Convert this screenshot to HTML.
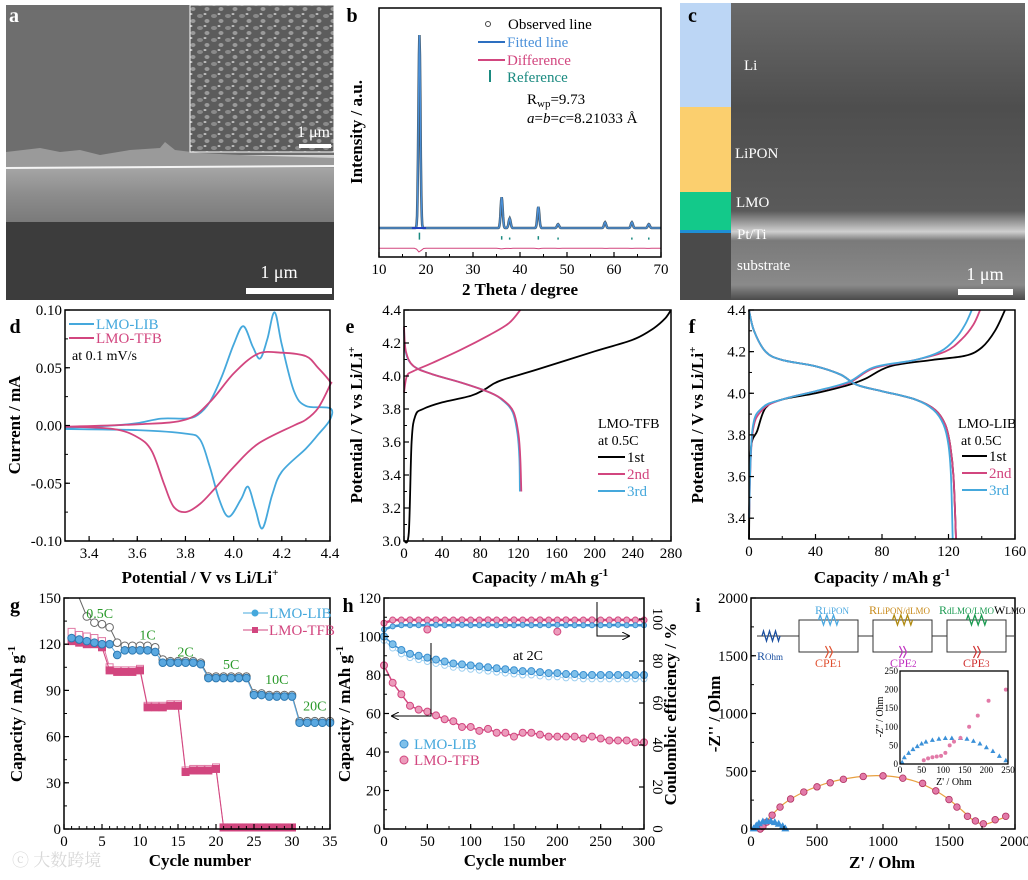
<!DOCTYPE html>
<html><head><meta charset="utf-8">
<style>
html,body{margin:0;padding:0;background:#fff;}
svg{display:block;font-family:"Liberation Serif","Noto Serif CJK SC",serif;}
</style></head>
<body>
<svg id="fig" width="1028" height="880" viewBox="0 0 1028 880" xmlns="http://www.w3.org/2000/svg">
<defs>
<linearGradient id="filmGrad" x1="0" y1="0" x2="0" y2="1">
<stop offset="0" stop-color="#d8d8d8"/><stop offset="0.15" stop-color="#a8a8a8"/><stop offset="0.6" stop-color="#8c8c8c"/><stop offset="1" stop-color="#7a7a7a"/>
</linearGradient>
<pattern id="grains" width="14" height="12" patternUnits="userSpaceOnUse">
<rect width="14" height="12" fill="#5c5c5c"/>
<ellipse cx="4" cy="4" rx="3" ry="2" fill="#8a8a8a"/>
<ellipse cx="11" cy="9" rx="2.5" ry="2" fill="#9a9a9a"/>
<ellipse cx="9" cy="2" rx="1.5" ry="1" fill="#bdbdbd"/>
</pattern>
<linearGradient id="semC" x1="0" y1="0" x2="0" y2="1">
<stop offset="0" stop-color="#6a6a6a"/><stop offset="0.35" stop-color="#4e4e4e"/><stop offset="0.7" stop-color="#5a5a5a"/><stop offset="0.77" stop-color="#cfcfcf"/><stop offset="0.8" stop-color="#7a7a7a"/><stop offset="0.95" stop-color="#8a8a8a"/><stop offset="1" stop-color="#4a4a4a"/>
</linearGradient>
<marker id="arr" markerWidth="8" markerHeight="8" refX="7" refY="4" orient="auto"><path d="M0,0 L8,4 L0,8" fill="none" stroke="#000" stroke-width="1"/></marker>
<marker id="arrB" markerWidth="8" markerHeight="8" refX="7" refY="4" orient="auto"><path d="M0,0 L8,4 L0,8" fill="none" stroke="#000" stroke-width="1"/></marker>
</defs>

<!-- Panel a -->
<g>
<rect x="6" y="5" width="328" height="295" fill="#6e6e6e"/>
<rect x="6" y="155" width="328" height="67" fill="url(#filmGrad)"/>
<path d="M6,152 L40,148 L60,152 L80,150 L100,155 L130,150 L160,148 L165,142 L175,150 L200,153 L240,155 L334,158 L334,168 L6,168 Z" fill="#9a9a9a"/>
<line x1="6" y1="168" x2="334" y2="166" stroke="#f4f4f4" stroke-width="2"/>
<rect x="6" y="222" width="328" height="78" fill="#3c3c3c"/>
<rect x="190" y="5" width="144" height="147" fill="url(#grains)" stroke="#fff" stroke-width="1"/>
<text x="330" y="137" fill="#fff" font-size="16" text-anchor="end">1 μm</text>
<rect x="299" y="144" width="32" height="4" fill="#fff"/>
<text x="279" y="278" fill="#fff" font-size="18" text-anchor="middle">1 μm</text>
<rect x="246" y="288" width="86" height="6" fill="#fff"/>
<text x="9" y="22" fill="#fff" font-size="20" font-weight="bold">a</text>
</g>

<!-- Panel c -->
<g>
<rect x="731" y="3" width="294" height="297" fill="url(#semC)"/>
<rect x="680" y="3" width="51" height="104" fill="#bcd6f5"/>
<rect x="680" y="107" width="51" height="85" fill="#fbcf6e"/>
<rect x="680" y="192" width="51" height="38" fill="#13c98a"/>
<rect x="680" y="230" width="51" height="3" fill="#1e8fd6"/>
<rect x="680" y="233" width="51" height="67" fill="#4a4a4a"/>
<g fill="#fff" font-size="15">
<text x="744" y="70">Li</text>
<text x="735" y="158">LiPON</text>
<text x="736" y="207">LMO</text>
<text x="737" y="239">Pt/Ti</text>
<text x="737" y="270">substrate</text>
</g>
<text x="985" y="280" fill="#fff" font-size="18" text-anchor="middle">1 μm</text>
<rect x="958" y="289" width="55" height="6" fill="#fff"/>
<text x="688" y="22" fill="#000" font-size="20" font-weight="bold">c</text>
</g>
</svg>

<script>
const NS='http://www.w3.org/2000/svg';
const svg=document.getElementById('fig');
function el(tag,attrs,parent){const e=document.createElementNS(NS,tag);for(const k in attrs)e.setAttribute(k,attrs[k]);(parent||svg).appendChild(e);return e;}

/* ---------- DATA ---------- */
// b: XRD
const xrdPeakPos=[18.6,36.1,37.8,43.9,48.1,58.1,63.8,67.4];
const xrdPeakHeight=[100,16,5,11,2,3,3,2];
const xrdRefPos=[18.6,36.1,37.8,43.9,48.1,63.8,67.4];
const xrdRefLen=[10,5,3,5,3,3,3];
// d: CV
const cvLibUp=[[3.3,-0.002],[3.5,0],[3.6,0.002],[3.7,0.006],[3.8,0.006],[3.85,0.009],[3.9,0.02],[3.95,0.042],[4.0,0.07],[4.04,0.086],[4.08,0.068],[4.11,0.058],[4.14,0.075],[4.17,0.098],[4.2,0.07],[4.25,0.03],[4.3,0.017],[4.4,0.015]];
const cvLibDown=[[4.4,0.005],[4.35,-0.008],[4.3,-0.02],[4.2,-0.04],[4.16,-0.06],[4.12,-0.089],[4.09,-0.072],[4.06,-0.053],[4.03,-0.064],[3.98,-0.079],[3.94,-0.064],[3.9,-0.035],[3.86,-0.012],[3.8,-0.007],[3.6,-0.004],[3.3,-0.003]];
const cvTfbUp=[[3.3,-0.001],[3.6,0.001],[3.8,0.005],[3.9,0.02],[4.0,0.045],[4.1,0.062],[4.2,0.063],[4.3,0.06],[4.35,0.05],[4.4,0.038]];
const cvTfbDown=[[4.4,0.035],[4.35,0.015],[4.3,0.005],[4.25,0.0],[4.1,-0.016],[4.0,-0.036],[3.92,-0.055],[3.86,-0.068],[3.8,-0.075],[3.75,-0.07],[3.71,-0.05],[3.66,-0.022],[3.6,-0.01],[3.5,-0.003],[3.3,-0.001]];
// e: TFB charge/discharge
const eCharge1=[[0,3.0],[5,3.05],[8,3.6],[12,3.76],[20,3.8],[40,3.84],[70,3.88],[85,3.92],[100,3.97],[140,4.04],[200,4.15],[240,4.22],[262,4.29],[274,4.35],[280,4.4]];
const eCharge2=[[0,3.9],[3,4.0],[10,4.03],[30,4.08],[60,4.16],[90,4.25],[110,4.32],[122,4.4]];
const eDis2=[[0,4.3],[2,4.15],[10,4.06],[30,4.01],[60,3.96],[90,3.9],[105,3.85],[115,3.78],[120,3.65],[122,3.5],[123,3.3]];
const eDis3=[[0,4.28],[2,4.14],[10,4.06],[30,4.01],[60,3.96],[90,3.9],[104,3.85],[114,3.78],[119,3.65],[121,3.5],[121.5,3.3]];
// f: LIB charge/discharge
const fCharge1=[[0,3.3],[1,3.72],[5,3.82],[10,3.93],[20,3.97],[40,4.0],[60,4.04],[70,4.07],[85,4.13],[110,4.16],[130,4.18],[140,4.22],[148,4.3],[154,4.4]];
const fCharge2=[[0,3.4],[2,3.8],[8,3.92],[20,3.97],[40,4.01],[60,4.05],[75,4.12],[100,4.16],[118,4.2],[128,4.26],[135,4.33],[139,4.4]];
const fCharge3=[[0,3.4],[2,3.82],[8,3.93],[20,3.97],[40,4.01],[60,4.055],[75,4.125],[100,4.16],[115,4.2],[124,4.26],[130,4.33],[134,4.4]];
const fDis1=[[0,4.4],[3,4.3],[10,4.2],[20,4.16],[40,4.13],[55,4.09],[65,4.04],[80,4.01],[100,3.97],[112,3.92],[118,3.85],[121,3.75],[123,3.6],[124.5,3.3]];
const fDis3=[[0,4.4],[3,4.3],[10,4.2],[20,4.16],[40,4.13],[55,4.09],[65,4.04],[80,4.01],[100,3.97],[111,3.92],[117,3.85],[120,3.75],[121.5,3.6],[122.5,3.3]];
// g: rate capability
const gCycles=[1,2,3,4,5,6,7,8,9,10,11,12,13,14,15,16,17,18,19,20,21,22,23,24,25,26,27,28,29,30,31,32,33,34,35];
const gLib=[124,123,122,121,120,120,113,116,116,116,116,115,108,108,108,108,108,107,98,98,98,98,98,98,87,87,86,86,86,86,69,69,69,69,69];
const gLibCharge=[null,160,138,134,133,131,121,119,119,119,119,118,110,109,109,109,109,108,99,99,99,99,99,99,88,88,87,87,87,87,70,70,70,70,70];
const gTfb=[122,121,120,120,118,103,102,102,102,103,79,79,79,80,80,37,38,38,38,39,1,1,1,1,1,1,1,1,1,1];
const gTfbCharge=[128,126,125,124,122,105,103,103,103,104,80,80,80,81,81,38,39,39,39,40,1,1,1,1,1,1,1,1,1,1];
const gRateLabels=['0.5C','1C','2C','5C','10C','20C'];
const gRateX=[4.7,11,16,22,28,33];
const gRateY=[137,123,112,104,94,77];
// h: cycling
const hCycles=[0,10,20,30,40,50,60,70,80,90,100,110,120,130,140,150,160,170,180,190,200,210,220,230,240,250,260,270,280,290,300];
const hLib=[100,96,93,91,90,89,88,87,86,85.5,85,84.5,84,83.5,83,82.5,82,82,81.5,81,81,80.5,80.5,80,80,80,80,80,80,80,80];
const hTfb=[85,76,70,64,62,61,59,57,56,53,53,51,52,50,50,48,50,50,49,48,48,48,48,47,48,47,46,46,46,45,45];
const hCeLib=[95,96.5,97,97,97,97,97.2,97,97,97.2,97,97,97.2,97,97,97,97.2,97,97,97,97.2,97,97,97,97,97,97,97.2,97,97,97];
const hCeTfb=[98,99.5,99.5,99.6,99.5,99.5,99.6,99.5,99.5,99.6,99.5,99.5,99.6,99.5,99.5,99.6,99.5,99.5,99.6,99.5,99.5,99.6,99.5,99.5,99.6,99.5,99.5,99.6,99.5,99.5,99.5];
const hOutlierCe=[[50,95],[200,94]];
// i: EIS
const iTfb=[[70,0],[90,20],[120,60],[160,120],[220,190],[300,260],[400,320],[500,365],[600,400],[700,430],[850,455],[1000,460],[1150,440],[1300,395],[1400,330],[1500,255],[1560,190],[1640,110],[1700,70],[1760,45],[1850,80],[1930,110]];
const iTfbFit=[[70,0],[150,110],[250,220],[400,320],[600,405],[800,450],[950,462],[1100,450],[1250,410],[1400,330],[1500,255],[1600,160],[1680,80],[1760,40],[1850,70],[1930,105]];
const iLib=[[20,5],[40,30],[60,50],[90,65],[120,70],[150,68],[180,60],[210,45],[240,25],[260,5]];
const iInsetLib=[[5,5],[10,18],[20,30],[30,40],[40,48],[50,55],[60,60],[75,65],[90,68],[105,70],[120,70],[140,70],[155,68],[170,62],[185,55],[200,45],[215,35],[230,22],[245,10]];
const iInsetTfb=[[55,10],[65,15],[75,18],[85,20],[95,22],[105,30],[115,50],[125,60],[140,70],[160,100],[180,130],[205,170],[245,200]];

/* ---------- helpers ---------- */
function axes(b,xmin,xmax,ymin,ymax){return {sx:v=>b.x0+(v-xmin)/(xmax-xmin)*(b.x1-b.x0), sy:v=>b.y1-(v-ymin)/(ymax-ymin)*(b.y1-b.y0)};}
function txt(x,y,s,opt){const t=el('text',{x:x,y:y,'font-size':opt.size||15,'text-anchor':opt.anchor||'middle',fill:opt.fill||'#000'});if(opt.weight)t.setAttribute('font-weight',opt.weight);if(opt.rot)t.setAttribute('transform','rotate('+opt.rot+' '+x+' '+y+')');t.textContent=s;return t;}
function frame(b){const r=el('rect',{x:b.x0,y:b.y0,width:b.x1-b.x0,height:b.y1-b.y0,fill:'none',stroke:'#000','stroke-width':1.5});

}
function xticks(b,ax,vals,labels,minorStep,lo,hi){
 vals.forEach((v,i)=>{const x=ax.sx(v);el('line',{x1:x,y1:b.y1,x2:x,y2:b.y1-5,stroke:'#000','stroke-width':1.2});
  const t=txt(x,b.y1+17,labels[i],{size:15});
  
  });
 if(minorStep){for(let v=lo;v<=hi+1e-9;v+=minorStep){const x=ax.sx(v);el('line',{x1:x,y1:b.y1,x2:x,y2:b.y1-3,stroke:'#000','stroke-width':1});}}
}
function yticks(b,ax,vals,labels,minorStep,lo,hi){
 vals.forEach((v,i)=>{const y=ax.sy(v);el('line',{x1:b.x0,y1:y,x2:b.x0+5,y2:y,stroke:'#000','stroke-width':1.2});
  const t=txt(b.x0-3,y+5,labels[i],{size:15,anchor:'end'});
  
  });
 if(minorStep){for(let v=lo;v<=hi+1e-9;v+=minorStep){const y=ax.sy(v);el('line',{x1:b.x0,y1:y,x2:b.x0+3,y2:y,stroke:'#000','stroke-width':1});}}
}
function smoothPath(pts,ax){
 const P=pts.map(p=>[ax.sx(p[0]),ax.sy(p[1])]);
 let d='M'+P[0][0].toFixed(1)+','+P[0][1].toFixed(1);
 for(let i=0;i<P.length-1;i++){const p0=P[i-1]||P[i],p1=P[i],p2=P[i+1],p3=P[i+2]||p2;
  const c1=[p1[0]+(p2[0]-p0[0])/6,p1[1]+(p2[1]-p0[1])/6],c2=[p2[0]-(p3[0]-p1[0])/6,p2[1]-(p3[1]-p1[1])/6];
  d+='C'+c1[0].toFixed(1)+','+c1[1].toFixed(1)+' '+c2[0].toFixed(1)+','+c2[1].toFixed(1)+' '+p2[0].toFixed(1)+','+p2[1].toFixed(1);}
 return d;}
function curve(pts,ax,color,w,name){const p=el('path',{d:smoothPath(pts,ax),fill:'none',stroke:color,'stroke-width':w});
 
 return p;}
function legendLine(x1,x2,y,color,label,lc,name){el('line',{x1:x1,y1:y,x2:x2,y2:y,stroke:color,'stroke-width':2});
 const t=txt(x2+2,y+5,label,{size:15,anchor:'start',fill:lc});
 
 }
const BLUE='#45a8dc', PINK='#d2467f', GREEN='#2a9a2a';

/* ---------- Panel b ---------- */
(function(){
 const b={x0:379,x1:661,y0:8,y1:257};
 const ax=axes(b,10,70,-15,114);
 const prof=[];
 for(let t=10;t<=70.001;t+=0.1){let v=0;xrdPeakPos.forEach((p,i)=>{v+=xrdPeakHeight[i]*Math.exp(-Math.pow((t-p)/0.3,2));});prof.push([t,v]);}
 let d=prof.map((p,i)=>(i?'L':'M')+ax.sx(p[0]).toFixed(1)+','+ax.sy(p[1]).toFixed(1)).join('');
 const obs=el('path',{d:d,fill:'none',stroke:'#455a6a','stroke-width':2.6});
 
 
 const fit=el('path',{d:d,fill:'none',stroke:'#4a90d9','stroke-width':1.3});
 
 
 el('line',{x1:ax.sx(17),y1:ax.sy(0),x2:ax.sx(20),y2:ax.sy(0),stroke:'#2040c0','stroke-width':2});
 xrdRefPos.forEach((p,i)=>{const r=el('line',{x1:ax.sx(p),y1:ax.sy(-6),x2:ax.sx(p),y2:ax.sy(-6)-xrdRefLen[i]*0.7,stroke:'#1a8a80','stroke-width':1.5});
  
  });
 const diff=[];for(let t=10;t<=70.001;t+=0.5){let v=-10.5;xrdPeakPos.forEach((p,i)=>{v-=xrdPeakHeight[i]*0.02*Math.exp(-Math.pow((t-p)/0.5,2));});diff.push([t,v]);}
 const df=el('path',{d:diff.map((p,i)=>(i?'L':'M')+ax.sx(p[0]).toFixed(1)+','+ax.sy(p[1]).toFixed(1)).join(''),fill:'none',stroke:PINK,'stroke-width':1});
 
 
 frame(b);
 xticks(b,ax,[10,20,30,40,50,60,70],['10','20','30','40','50','60','70'],5,10,70);
 const xt=txt(520,295,'2 Theta / degree',{size:17,weight:'bold'});
 
 
 const yt=txt(362,132,'Intensity / a.u.',{size:17,weight:'bold',rot:-90});
 
 
 el('circle',{cx:488,cy:24,r:2.5,fill:'none',stroke:'#444','stroke-width':1});
 let t=txt(508,29,'Observed line',{size:15,anchor:'start'});
 
 
 legendLine(478,505,42,'#2d6fc0','Fitted line','#4a90d9','legend-fitted');
 legendLine(478,505,60,PINK,'Difference',PINK,'legend-difference');
 el('line',{x1:490,y1:70,x2:490,y2:82,stroke:'#1a8a80','stroke-width':2});
 t=txt(507,82,'Reference',{size:15,anchor:'start',fill:'#1a8a80'});
 
 
 t=el('text',{x:527,y:104,'font-size':15});t.innerHTML='R<tspan font-size="11" dy="3">wp</tspan><tspan dy="-3">=9.73</tspan>';
 
 
 t=el('text',{x:527,y:123,'font-size':15});t.innerHTML='<tspan font-style="italic">a</tspan>=<tspan font-style="italic">b</tspan>=<tspan font-style="italic">c</tspan>=8.21033 Å';
 
 
 t=txt(352,22,'b',{size:20,weight:'bold'});
 
 
})();

/* ---------- Panel d ---------- */
(function(){
 const b={x0:65,x1:330,y0:310,y1:541};
 const ax=axes(b,3.3,4.4,-0.1,0.1);
 curve(cvLibUp.concat(cvLibDown),ax,BLUE,1.8,'cv-lmo-lib');
 curve(cvTfbUp.concat(cvTfbDown),ax,PINK,1.8,'cv-lmo-tfb');
 frame(b);
 xticks(b,ax,[3.4,3.6,3.8,4.0,4.2,4.4],['3.4','3.6','3.8','4.0','4.2','4.4'],0.1,3.3,4.4);
 yticks(b,ax,[-0.1,-0.05,0,0.05,0.1],['-0.10','-0.05','0.00','0.05','0.10'],0.025,-0.1,0.1);
 let t=el('text',{x:200,y:583,'font-size':17,'font-weight':'bold','text-anchor':'middle'});t.innerHTML='Potential / V vs Li/Li<tspan font-size="11" dy="-7">+</tspan>';
 
 
 t=txt(20,425,'Current / mA',{size:17,weight:'bold',rot:-90});
 
 
 legendLine(69,94,324,BLUE,'LMO-LIB',BLUE,'legend-lmo-lib-d');
 legendLine(69,94,338,PINK,'LMO-TFB',PINK,'legend-lmo-tfb-d');
 t=txt(72,360,'at 0.1 mV/s',{size:14,anchor:'start'});
 
 
 t=txt(15,333,'d',{size:20,weight:'bold'});
 
 
})();

/* ---------- Panel e ---------- */
(function(){
 const b={x0:404,x1:671,y0:310,y1:541};
 const ax=axes(b,0,280,3.0,4.4);
 curve(eCharge1,ax,'#000',1.8,'tfb-charge-1st');
 curve(eCharge2,ax,PINK,1.8,'tfb-charge-2nd');
 curve(eDis3,ax,BLUE,1.8,'tfb-discharge-3rd');
 curve(eDis2,ax,PINK,1.8,'tfb-discharge-2nd');
 frame(b);
 xticks(b,ax,[0,40,80,120,160,200,240,280],['0','40','80','120','160','200','240','280'],20,0,280);
 yticks(b,ax,[3.0,3.2,3.4,3.6,3.8,4.0,4.2,4.4],['3.0','3.2','3.4','3.6','3.8','4.0','4.2','4.4'],0.1,3.0,4.4);
 let t=el('text',{x:540,y:583,'font-size':17,'font-weight':'bold','text-anchor':'middle'});t.innerHTML='Capacity / mAh g<tspan font-size="11" dy="-7">-1</tspan>';
 
 
 t=el('text',{x:362,y:425,'font-size':17,'font-weight':'bold','text-anchor':'middle',transform:'rotate(-90 362 425)'});t.innerHTML='Potential / V vs Li/Li<tspan font-size="11" dy="-7">+</tspan>';
 
 
 t=txt(598,428,'LMO-TFB',{size:14,anchor:'start'});
 
 
 t=txt(598,445,'at 0.5C',{size:14,anchor:'start'});
 
 
 legendLine(598,625,457,'#000','1st','#000','legend-1st-e');
 legendLine(598,625,474,PINK,'2nd',PINK,'legend-2nd-e');
 legendLine(598,625,491,BLUE,'3rd',BLUE,'legend-3rd-e');
 t=txt(350,333,'e',{size:20,weight:'bold'});
 
 
})();

/* ---------- Panel f ---------- */
(function(){
 const b={x0:749,x1:1015,y0:310,y1:539};
 const ax=axes(b,0,160,3.3,4.4);
 curve(fCharge1,ax,'#000',1.8,'lib-charge-1st');
 curve(fDis1,ax,'#000',1.8,'lib-discharge-1st');
 curve(fCharge2,ax,PINK,1.8,'lib-charge-2nd');
 curve(fDis1,ax,PINK,1.8,'lib-discharge-2nd');
 curve(fCharge3,ax,BLUE,1.8,'lib-charge-3rd');
 curve(fDis3,ax,BLUE,1.8,'lib-discharge-3rd');
 frame(b);
 xticks(b,ax,[0,40,80,120,160],['0','40','80','120','160'],20,0,160);
 yticks(b,ax,[3.4,3.6,3.8,4.0,4.2,4.4],['3.4','3.6','3.8','4.0','4.2','4.4'],0.1,3.3,4.4);
 let t=el('text',{x:882,y:583,'font-size':17,'font-weight':'bold','text-anchor':'middle'});t.innerHTML='Capacity / mAh g<tspan font-size="11" dy="-7">-1</tspan>';
 
 
 t=el('text',{x:703,y:425,'font-size':17,'font-weight':'bold','text-anchor':'middle',transform:'rotate(-90 703 425)'});t.innerHTML='Potential / V vs Li/Li<tspan font-size="11" dy="-7">+</tspan>';
 
 
 t=txt(958,428,'LMO-LIB',{size:14,anchor:'start'});
 
 
 t=txt(961,445,'at 0.5C',{size:14,anchor:'start'});
 
 
 legendLine(962,987,456,'#000','1st','#000','legend-1st-f');
 legendLine(962,987,473,PINK,'2nd',PINK,'legend-2nd-f');
 legendLine(962,987,490,BLUE,'3rd',BLUE,'legend-3rd-f');
 t=txt(692,333,'f',{size:20,weight:'bold'});
 
 
})();

/* ---------- Panel g ---------- */
(function(){
 const b={x0:64,x1:330,y0:598,y1:829};
 const ax=axes(b,0,35,0,150);
 function series(vals,color,shape,filled,name,lineW){
  const pts=[];vals.forEach((v,i)=>{if(v!==null)pts.push([gCycles[i],v]);});
  const d=pts.map((p,i)=>(i?'L':'M')+ax.sx(p[0]).toFixed(1)+','+ax.sy(Math.min(p[1],150)).toFixed(1)).join('');
  const pl=el('path',{d:d,fill:'none',stroke:color,'stroke-width':lineW});
  
  
  pts.forEach(p=>{if(p[1]>150)return;const x=ax.sx(p[0]),y=ax.sy(p[1]);let m;
   if(shape==='c')m=el('circle',{cx:x,cy:y,r:3.8,fill:filled?color:'#fff',stroke:filled?'#2d78b0':color,'stroke-width':1});
   else m=el('rect',{x:x-3.5,y:y-3.5,width:7,height:7,fill:filled?color:'#fff',stroke:color,'stroke-width':1});
   
   });
 }
 series(gTfbCharge,'#e07aa5','s',false,'tfb-charge',1);
 series(gTfb,PINK,'s',true,'tfb-discharge',1);
 series(gLibCharge,'#666','c',false,'lib-charge',1);
 series(gLib,'#5aa8e0','c',true,'lib-discharge',1);
 frame(b);
 xticks(b,ax,[0,5,10,15,20,25,30,35],['0','5','10','15','20','25','30','35'],1,0,35);
 yticks(b,ax,[0,30,60,90,120,150],['0','30','60','90','120','150'],15,0,150);
 gRateLabels.forEach((s,i)=>{const t=txt(ax.sx(gRateX[i]),ax.sy(gRateY[i]),s,{size:14,fill:GREEN});
  
  });
 let t=txt(200,866,'Cycle number',{size:17,weight:'bold'});
 
 
 t=el('text',{x:22,y:714,'font-size':17,'font-weight':'bold','text-anchor':'middle',transform:'rotate(-90 22 714)'});t.innerHTML='Capacity / mAh g<tspan font-size="11" dy="-7">-1</tspan>';
 
 
 el('line',{x1:243,y1:613,x2:268,y2:613,stroke:BLUE,'stroke-width':1});
 el('circle',{cx:255,cy:613,r:3.5,fill:BLUE});
 t=txt(269,618,'LMO-LIB',{size:15,anchor:'start',fill:BLUE});
 
 
 el('line',{x1:243,y1:630,x2:268,y2:630,stroke:PINK,'stroke-width':1});
 el('rect',{x:252,y:627,width:6,height:6,fill:PINK});
 t=txt(269,635,'LMO-TFB',{size:15,anchor:'start',fill:PINK});
 
 
 t=txt(15,612,'g',{size:20,weight:'bold'});
 
 
 t=txt(12,866,'ⓒ 大数跨境',{size:17,anchor:'start',fill:'#d8d8d8'});
 
 
})();

/* ---------- Panel h ---------- */
(function(){
 const b={x0:384,x1:644,y0:598,y1:829};
 const ax=axes(b,0,300,0,120);
 const ax2=axes(b,0,300,0,110);
 function pts(arr,a,col,fill,r,name,lw){
  const d=arr.map((v,i)=>(i?'L':'M')+a.sx(hCycles[i]).toFixed(1)+','+a.sy(v).toFixed(1)).join('');
  const p=el('path',{d:d,fill:'none',stroke:col,'stroke-width':lw});
  
  
  arr.forEach((v,i)=>{const c=el('circle',{cx:a.sx(hCycles[i]),cy:a.sy(v),r:r,fill:fill,stroke:col,'stroke-width':1});
   
   });
 }
 pts(hCeTfb,ax2,PINK,'#ec9cbc',3,'ce-tfb',2.5);
 pts(hCeLib,ax2,'#3a8fd0','#7fc0ea',2.5,'ce-lib',2.5);
 hOutlierCe.forEach(o=>{const c=el('circle',{cx:ax2.sx(o[0]),cy:ax2.sy(o[1]),r:3.5,fill:'#ec9cbc',stroke:PINK});
  
  });
 pts(hLib.map(v=>v-2),ax,'#9fd0f0','#fff',3,'lib-charge',1);
 pts(hLib,ax,'#3a8fd0','#7fc0ea',3.5,'lib-capacity',1.5);
 pts(hTfb,ax,PINK,'#ec9cbc',3.5,'tfb-capacity',1.5);
 frame(b);
 xticks(b,ax,[0,50,100,150,200,250,300],['0','50','100','150','200','250','300'],25,0,300);
 yticks(b,ax,[0,20,40,60,80,100,120],['0','20','40','60','80','100','120'],10,0,120);
 [0,20,40,60,80,100].forEach(v=>{const y=ax2.sy(v);el('line',{x1:b.x1,y1:y,x2:b.x1-5,y2:y,stroke:'#000','stroke-width':1.2});
  const t=txt(b.x1+9,y,String(v),{size:15,rot:90});
  
  });
 let t=txt(528,660,'at 2C',{size:14});
 
 
 const a1=el('path',{d:'M431,643 L431,716 L392,716',fill:'none',stroke:'#000','stroke-width':1,'marker-end':'url(#arr)'});
 
 
 const a2=el('path',{d:'M597,602 L597,636 L629,636',fill:'none',stroke:'#000','stroke-width':1,'marker-end':'url(#arrB)'});
 
 
 el('circle',{cx:404,cy:744,r:4,fill:'#7fc0ea',stroke:'#3a8fd0'});
 t=txt(414,749,'LMO-LIB',{size:15,anchor:'start',fill:BLUE});
 
 
 el('circle',{cx:404,cy:760,r:4,fill:'#ec9cbc',stroke:PINK});
 t=txt(414,765,'LMO-TFB',{size:15,anchor:'start',fill:PINK});
 
 
 t=txt(515,866,'Cycle number',{size:17,weight:'bold'});
 
 
 t=el('text',{x:350,y:714,'font-size':17,'font-weight':'bold','text-anchor':'middle',transform:'rotate(-90 350 714)'});t.innerHTML='Capacity / mAh g<tspan font-size="11" dy="-7">-1</tspan>';
 
 
 t=txt(676,714,'Coulombic efficiency / %',{size:17,weight:'bold',rot:-90});
 
 
 t=txt(348,612,'h',{size:20,weight:'bold'});
 
 
})();

/* ---------- Panel i ---------- */
(function(){
 const b={x0:751,x1:1015,y0:598,y1:829};
 const ax=axes(b,0,2000,0,2000);
 curve(iTfbFit,ax,'#e8a040',1.2,'eis-fit-line');
 iTfb.forEach(p=>{const c=el('circle',{cx:ax.sx(p[0]),cy:ax.sy(p[1]),r:3.3,fill:'#e27aa8',stroke:'#b03060','stroke-width':0.8});
  
  });
 iLib.forEach(p=>{const x=ax.sx(p[0]),y=ax.sy(p[1]);const tr=el('path',{d:'M'+x+','+(y-4)+' L'+(x+4)+','+(y+3)+' L'+(x-4)+','+(y+3)+'Z',fill:'#3a90d8'});
  
  });
 frame(b);
 xticks(b,ax,[0,500,1000,1500,2000],['0','500','1000','1500','2000'],250,0,2000);
 yticks(b,ax,[0,500,1000,1500,2000],['0','500','1000','1500','2000'],250,0,2000);
 let t=txt(882,868,"Z' / Ohm",{size:17,weight:'bold'});
 
 
 t=txt(720,714,"-Z'' / Ohm",{size:17,weight:'bold',rot:-90});
 
 
 t=txt(698,612,'i',{size:20,weight:'bold'});
 
 
 const ib={x0:900,x1:1008,y0:671,y1:764};
 const ia=axes(ib,0,250,0,250);
 el('rect',{x:ib.x0,y:ib.y0,width:108,height:93,fill:'#fff'});
 iInsetLib.forEach(p=>{const x=ia.sx(p[0]),y=ia.sy(p[1]);const tr=el('path',{d:'M'+x+','+(y-2.5)+' L'+(x+2.5)+','+(y+2)+' L'+(x-2.5)+','+(y+2)+'Z',fill:'#3a90d8'});
  
  });
 iInsetTfb.forEach(p=>{const c=el('circle',{cx:ia.sx(p[0]),cy:ia.sy(p[1]),r:2,fill:'#e27aa8'});
  
  });
 const ir=el('rect',{x:ib.x0,y:ib.y0,width:108,height:93,fill:'none',stroke:'#000','stroke-width':1.3});
 
 
 [0,50,100,150,200,250].forEach(v=>{let tt=txt(ia.sx(v),ib.y1+9,String(v),{size:9});
  
  
  tt=txt(ib.x0-2,ia.sy(v)+3,String(v),{size:9,anchor:'end'});
  
  });
 t=txt(954,785,"Z' / Ohm",{size:10});
 
 
 t=txt(883,717,"-Z'' / Ohm",{size:10,rot:-90});
 
 
 const g=el('g',{});
 
 
 function zig(x,y,w,col){let d='M'+x+','+y;for(let k=0;k<6;k++)d+=' L'+(x+(k+0.5)*w/6)+','+(y+(k%2?5:-5));d+=' L'+(x+w)+','+y;el('path',{d:d,fill:'none',stroke:col,'stroke-width':1.3},g);}
 el('line',{x1:757,y1:636,x2:795,y2:636,stroke:'#333','stroke-width':1},g);
 zig(762,636,18,'#1a4fa0');
 [[795,862,'#4aa8e0','#e05030'],[869,936,'#b08a10','#c030c0'],[943,1010,'#1a9a50','#d03030']].forEach((bx,k)=>{
  el('path',{d:'M'+bx[0]+',636 L'+(bx[0]+4)+',636 L'+(bx[0]+4)+',620 L'+(bx[1]-4)+',620 L'+(bx[1]-4)+',636 L'+bx[1]+',636 M'+(bx[0]+4)+',636 L'+(bx[0]+4)+',652 L'+(bx[1]-4)+',652 L'+(bx[1]-4)+',636',fill:'none',stroke:'#333','stroke-width':1},g);
  zig((bx[0]+bx[1])/2-10,620,20,bx[2]);
  el('path',{d:'M'+((bx[0]+bx[1])/2-3)+',646 l3,6 l-3,6 M'+((bx[0]+bx[1])/2+1)+',646 l3,6 l-3,6',fill:'none',stroke:bx[3],'stroke-width':1.2},g);
  if(k<2)el('line',{x1:bx[1],y1:636,x2:bx[1]+7,y2:636,stroke:'#333'},g);
 });
 el('line',{x1:1010,y1:636,x2:1014,y2:636,stroke:'#333'},g);
 let c=el('text',{x:815,y:614,'font-size':12,fill:'#4aa8e0'},g);c.innerHTML='R<tspan font-size="9">LiPON</tspan>';
 c=el('text',{x:869,y:614,'font-size':12,fill:'#c88a1a'},g);c.innerHTML='R<tspan font-size="9">LiPON/dLMO</tspan>';
 c=el('text',{x:939,y:614,'font-size':12,fill:'#1a9a50'},g);c.innerHTML='R<tspan font-size="9">dLMO/LMO</tspan><tspan fill="#000">W</tspan><tspan font-size="9" fill="#000">LMO</tspan>';
 c=el('text',{x:757,y:660,'font-size':12,fill:'#1a4fa0'},g);c.innerHTML='R<tspan font-size="9">Ohm</tspan>';
 c=el('text',{x:815,y:667,'font-size':12,fill:'#e05030'},g);c.innerHTML='CPE<tspan font-size="9">1</tspan>';
 c=el('text',{x:890,y:667,'font-size':12,fill:'#c030c0'},g);c.innerHTML='CPE<tspan font-size="9">2</tspan>';
 c=el('text',{x:963,y:667,'font-size':12,fill:'#d03030'},g);c.innerHTML='CPE<tspan font-size="9">3</tspan>';
})();
</script>
</body></html>
